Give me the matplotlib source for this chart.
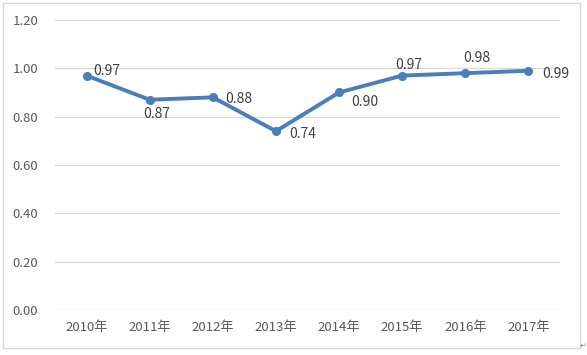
import matplotlib.pyplot as plt
from matplotlib.patches import Rectangle

years = ['2010年', '2011年', '2012年', '2013年', '2014年', '2015年', '2016年', '2017年']
values = [0.97, 0.87, 0.88, 0.74, 0.90, 0.97, 0.98, 0.99]
# label offsets in pixels (dx, dy) relative to each point
label_offsets = [(20, 5), (7, -14), (26, -2), (27, -3), (26, -9), (7, 11), (12, 15), (27, -3)]

plt.rcParams['font.family'] = ['Noto Sans CJK SC', 'DejaVu Sans']

fig = plt.figure(figsize=(5.87, 3.55), dpi=100)
ax = fig.add_axes([55 / 587, 45 / 355, 505 / 587, 290 / 355])

x = list(range(len(years)))
ax.plot(x, values, color='#4a7ebb', lw=2.8, marker='o', ms=5.5, zorder=3,
        solid_capstyle='round', solid_joinstyle='round')

for xi, v, (dx, dy) in zip(x, values, label_offsets):
    ax.annotate(f'{v:.2f}', (xi, v), xytext=(dx, dy), textcoords='offset pixels',
                ha='center', va='center', fontsize=10, color='#404040')

ax.set_xlim(-0.5, len(years) - 0.5)
ax.set_ylim(0, 1.2)
ax.set_yticks([0, 0.2, 0.4, 0.6, 0.8, 1.0, 1.2])
ax.set_yticklabels([f'{t:.2f}' for t in [0, 0.2, 0.4, 0.6, 0.8, 1.0, 1.2]])
ax.set_xticks(x)
ax.set_xticklabels(years)
ax.tick_params(length=0, labelsize=9.5, colors='#595959')
ax.tick_params(axis='y', pad=12)
ax.tick_params(axis='x', pad=8)
ax.grid(axis='y', color='#d9d9d9', lw=0.9)
ax.set_axisbelow(True)
for s in ax.spines.values():
    s.set_visible(False)

# outer chart border
fig.patches.append(Rectangle((3 / 587, 7 / 355), 577 / 587, 345 / 355,
                             transform=fig.transFigure, fill=False,
                             edgecolor='#d9d9d9', lw=1))
fig.text(583 / 587, 10 / 355, '↵', fontsize=6, color='#808080',
         family='DejaVu Sans', ha='center', va='center')

fig.savefig('out.png', dpi=100)
